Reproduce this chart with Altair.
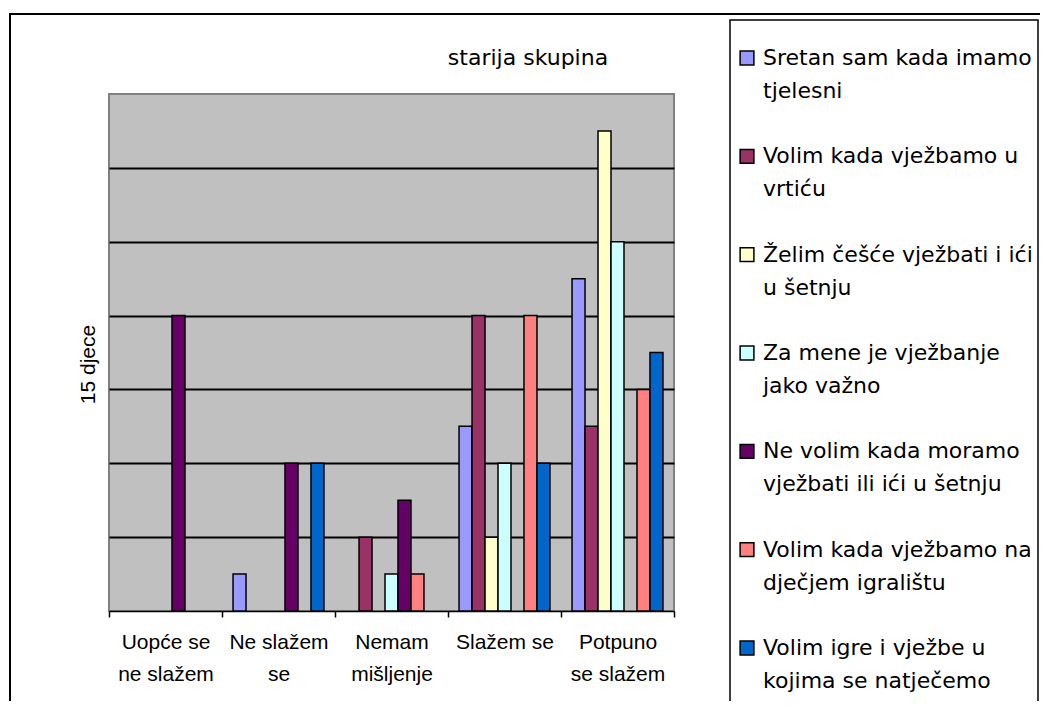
import altair as alt
import pandas as pd

# ---------------- data ----------------
categories = ["Uopće se\nne slažem", "Ne slažem\nse", "Nemam\nmišljenje", "Slažem se", "Potpuno\nse slažem"]

series = [
    "Sretan sam kada imamo tjelesni",
    "Volim kada vježbamo u vrtiću",
    "Želim češće vježbati i ići u šetnju",
    "Za mene je vježbanje jako važno",
    "Ne volim kada moramo vježbati ili ići u šetnju",
    "Volim kada vježbamo na dječjem igralištu",
    "Volim igre i vježbe u kojima se natječemo",
]
legend_line1 = ["Sretan sam kada imamo", "Volim kada vježbamo u", "Želim češće vježbati i ići",
                "Za mene je vježbanje", "Ne volim kada moramo", "Volim kada vježbamo na",
                "Volim igre i vježbe u"]
legend_line2 = ["tjelesni", "vrtiću", "u šetnju", "jako važno", "vježbati ili ići u šetnju",
                "dječjem igralištu", "kojima se natječemo"]

colors = ["#9999FF", "#993366", "#FFFFCC", "#CCFFFF", "#660066", "#FF8080", "#0066CC"]

sretan = [0, 1, 0, 5, 9]
vrticu = [0, 0, 2, 8, 5]
zelim = [0, 0, 0, 2, 13]
za_mene = [0, 0, 1, 4, 10]
ne_volim = [8, 4, 3, 0, 0]
igraliste = [0, 0, 1, 8, 6]
igre = [0, 4, 0, 4, 7]

title_text = "starija skupina"
y_title = "15 djece"

values = [sretan, vrticu, zelim, za_mene, ne_volim, igraliste, igre]
rows = []
for s, vals in zip(series, values):
    for c, v in zip(categories, vals):
        rows.append({"category": c, "series": s, "value": v})
df = pd.DataFrame(rows)
legend_df = pd.DataFrame({"series": series, "line1": legend_line1, "line2": legend_line2})
one = pd.DataFrame({"a": [0]})

color_scale = alt.Scale(domain=series, range=colors)
LEG_FONT = "DejaVu Sans"
AX_FONT = "Liberation Sans"

# ---------------- decorations ----------------
frame = alt.Chart(one).mark_rect(fill="white", fillOpacity=0, stroke="black", strokeWidth=2).encode(
    x=alt.value(-99), x2=alt.value(1200), y=alt.value(-80), y2=alt.value(1200)
)
legend_box = alt.Chart(one).mark_rect(fill="white", stroke="black", strokeWidth=1.5).encode(
    x=alt.value(621), x2=alt.value(929), y=alt.value(-74), y2=alt.value(1200)
)
title = alt.Chart(one).mark_text(font=LEG_FONT, fontSize=22, align="center", baseline="middle",
                                 color="black").encode(
    x=alt.value(419), y=alt.value(-36), text=alt.value(title_text)
)

# ---------------- bars ----------------
bars = alt.Chart(df).transform_filter("datum.value > 0").mark_bar(
    stroke="black", strokeWidth=1.5
).encode(
    x=alt.X("category:N", sort=categories,
            scale=alt.Scale(domain=categories, paddingInner=0, paddingOuter=0),
            axis=alt.Axis(title=None, labelAngle=0, labelExpr="split(datum.label, '\\n')",
                          labelFont=AX_FONT, labelFontSize=21, labelColor="black",
                          labelLineHeight=32, labelPadding=14, labelLimit=0,
                          tickBand="extent", tickSize=6, tickColor="black", tickWidth=1.5,
                          domainColor="black", domainWidth=1.5, grid=False)),
    xOffset=alt.XOffset("series:N", scale=alt.Scale(domain=series, paddingInner=0, paddingOuter=0.85)),
    y=alt.Y("value:Q", scale=alt.Scale(domain=[0, 14], nice=False),
            axis=alt.Axis(values=[2, 4, 6, 8, 10, 12], labels=False, ticks=False, domain=False,
                          grid=True, gridColor="black", gridWidth=2, gridOpacity=1,
                          title=y_title, titleFont=AX_FONT, titleFontSize=21,
                          titleFontWeight="normal", titleColor="black", titleAngle=270,
                          titleX=-21, titleY=270, titleAlign="center", titleBaseline="middle")),
    color=alt.Color("series:N", scale=color_scale, legend=None),
)

# ---------------- legend ----------------
leg_y = alt.Y("series:N", scale=alt.Scale(type="point", domain=series, range=[-36, 554], padding=0),
              axis=None)
leg_squares = alt.Chart(legend_df).mark_square(size=190, stroke="black", strokeWidth=1.5, opacity=1).encode(
    x=alt.value(638), y=leg_y, color=alt.Color("series:N", scale=color_scale, legend=None)
)
leg_text1 = alt.Chart(legend_df).mark_text(font=LEG_FONT, fontSize=22, align="left", baseline="middle",
                                           color="black").encode(
    x=alt.value(654), y=leg_y, text="line1:N"
)
leg_text2 = alt.Chart(legend_df).mark_text(font=LEG_FONT, fontSize=22, align="left", baseline="middle",
                                           color="black", dy=33).encode(
    x=alt.value(654), y=leg_y, text="line2:N"
)

chart = alt.layer(
    frame, legend_box, title, bars, leg_squares, leg_text1, leg_text2
).resolve_scale(y="independent").properties(
    width=565, height=517,
    autosize=alt.AutoSizeParams(type="none"),
    padding={"left": 101, "top": 86, "right": 366, "bottom": 90},
).configure_view(
    fill="#C0C0C0", stroke="#808080", strokeWidth=2
)

chart.save("out.html", embed_options={"renderer": "svg", "actions": False})
